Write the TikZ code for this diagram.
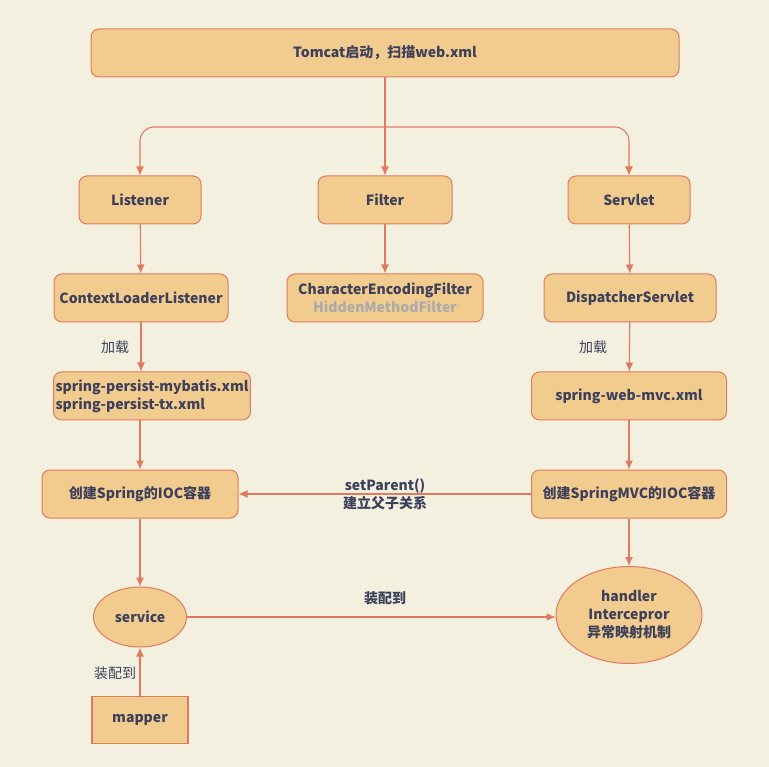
\documentclass[tikz,border=0pt]{standalone}
\usepackage{fontspec}
\setmainfont{Noto Sans CJK SC}
\usetikzlibrary{arrows.meta}
\definecolor{paper}{HTML}{F4F0DF}
\definecolor{boxfill}{HTML}{F2CC8F}
\definecolor{boxline}{HTML}{E07A5F}
\definecolor{ink}{HTML}{3D405B}
\definecolor{faded}{HTML}{ABABAB}
\pgfdeclarelayer{bg}
\pgfsetlayers{bg,main}
\tikzset{
  box/.style={draw=boxline, fill=boxfill, line width=1pt, rounded corners=8pt,
    minimum height=48pt, inner sep=2pt, text=ink, font=\fontsize{14}{18}\selectfont\bfseries},
  oval/.style={box, ellipse},
  plain/.style={box, rounded corners=0pt, line width=1.6pt},
  note/.style={text=ink, font=\fontsize{14}{15}\selectfont, inner sep=1pt},
  flow/.style={draw=boxline, line width=1.1pt, -{Latex[length=9pt,width=8pt]}}
}
\usetikzlibrary{shapes.geometric}
\begin{document}
\begin{tikzpicture}[x=1pt, y=-1pt]
        \useasboundingbox (0,0) rectangle (769,767);
        \node (tomcat) [box, minimum width=588pt] at (385,53) {Tomcat启动，扫描web.xml};
        \node (listener) [box, minimum width=122pt] at (140,200) {Listener};
        \node (filter) [box, minimum width=134pt] at (385,200) {Filter};
        \node (servlet) [box, minimum width=122pt] at (629,200) {Servlet};
        \node (ctxloader) [box, minimum width=174pt] at (141,298) {ContextLoaderListener};
        \node (encfilter) [box, minimum width=196pt, align=center] at (385,298)
{CharacterEncodingFilter\\\textcolor{faded}{HiddenMethodFilter}};
        \node (dispatcher) [box, minimum width=172pt] at (630,298) {DispatcherServlet};
        \node (persistxml) [box, minimum width=196pt, align=left] at (152,396)
{spring-persist-mybatis.xml\\spring-persist-tx.xml};
        \node (mvcxml) [box, minimum width=195pt] at (629,396) {spring-web-mvc.xml};
        \node (rootioc) [box, minimum width=196pt] at (140,494) {创建Spring的IOC容器};
        \node (mvcioc) [box, minimum width=195pt] at (629,494) {创建SpringMVC的IOC容器};
        \node (service) [oval, minimum width=93pt, minimum height=60pt] at (140,617) {service};
        \node (handler) [oval, minimum width=146pt, minimum height=97pt, align=center] at (629,615)
{handler\\Intercepror\\异常映射机制};
        \node (mapper) [plain, minimum width=96pt, minimum height=47pt] at (140,720) {mapper};
        \coordinate (split) at (385,127);
        \node (loadleft) [note] at (115,347) {加载};
        \node (loadright) [note] at (593,347) {加载};
        \node (parentlbl) [note, font=\fontsize{14}{15}\selectfont\bfseries] at (385,486) {setParent()};
        \node (relationlbl) [note, font=\fontsize{14}{15}\selectfont\bfseries] at (385,503) {建立父子关系};
        \node (wirelbl) [note, font=\fontsize{14}{15}\selectfont\bfseries] at (385,598) {装配到};
        \node (mapperlbl) [note] at (115,673) {装配到};
        \begin{pgfonlayer}{bg}
                \fill [paper] (0,0) rectangle (769,767);
                \draw [flow] (tomcat) -- (filter);
                \draw [flow, rounded corners=14pt] (split) -| (listener);
                \draw [flow, rounded corners=14pt] (split) -| (servlet);
                \draw [flow] (listener) -- (ctxloader);
                \draw [flow] (filter) -- (encfilter);
                \draw [flow] (servlet) -- (dispatcher);
                \draw [flow] (ctxloader.south) -- (ctxloader.south |- persistxml.north);
                \draw [flow] (dispatcher) -- (mvcxml);
                \draw [flow] (persistxml.south -| rootioc.north) -- (rootioc);
                \draw [flow] (mvcxml) -- (mvcioc);
                \draw [flow] (mvcioc) -- (rootioc);
                \draw [flow] (rootioc) -- (service);
                \draw [flow] (mvcioc) -- (handler);
                \draw [flow] (service) -- (service -| handler.west);
                \draw [flow] (mapper) -- (service);
        \end{pgfonlayer}
\end{tikzpicture}
\end{document}
